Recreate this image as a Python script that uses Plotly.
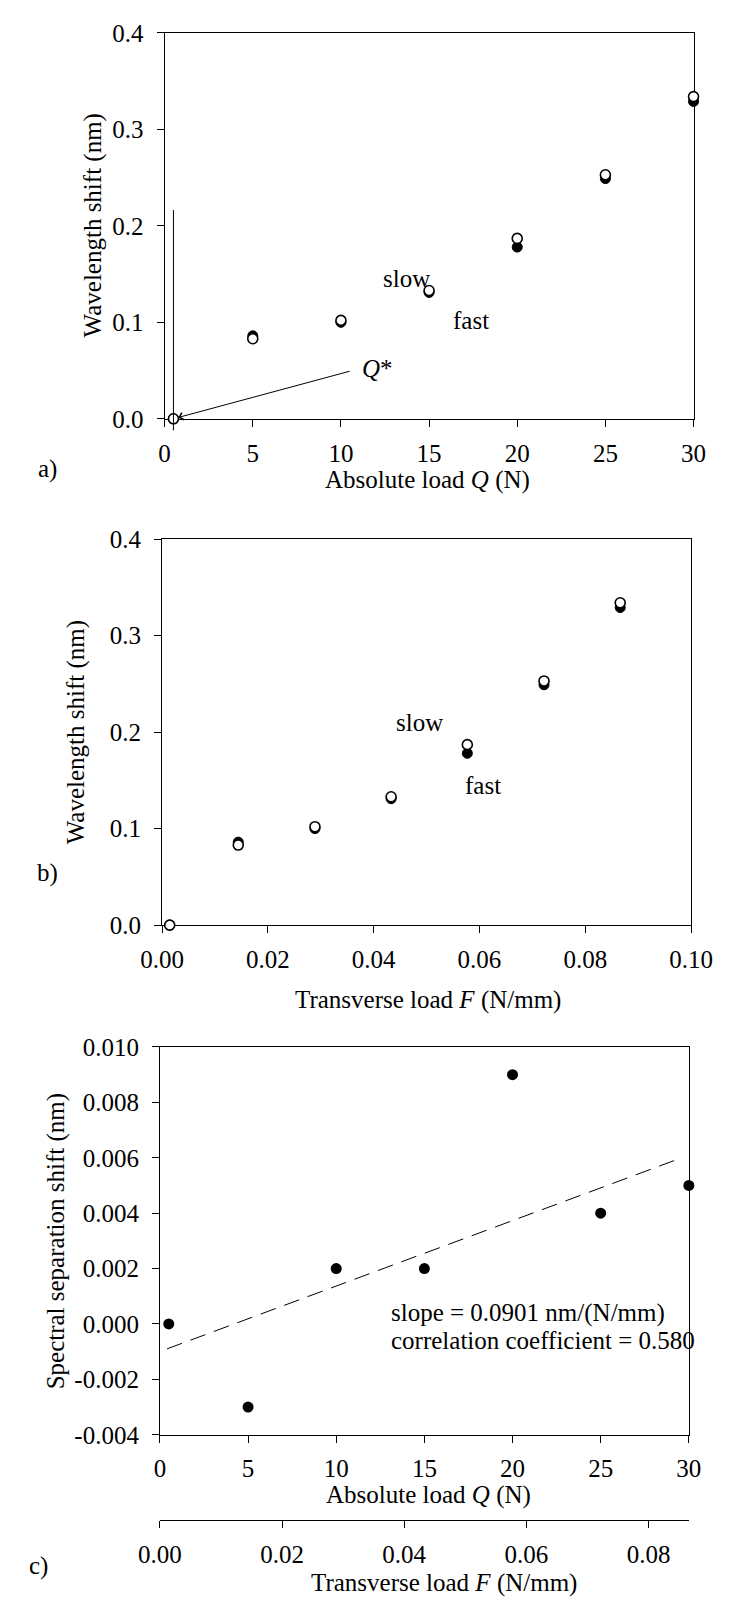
import plotly.graph_objects as go

# ---------------- data ----------------
Q_load = [0.5, 5, 10, 15, 20, 25, 30]                                  # absolute load Q (N)
F_load = [0.00144, 0.0144, 0.0289, 0.0433, 0.0577, 0.0722, 0.0866]     # transverse load F (N/mm)
shift_fast = [0.000, 0.086, 0.100, 0.131, 0.178, 0.249, 0.329]         # filled circles
shift_slow = [0.000, 0.083, 0.102, 0.133, 0.187, 0.253, 0.334]         # open circles
spec_sep = [0.000, -0.003, 0.002, 0.002, 0.009, 0.004, 0.005]          # spectral separation shift
fit_Q = [0.4, 29.6]
fit_spec = [-0.0009, 0.0060]

ya_ticks = [0.0, 0.1, 0.2, 0.3, 0.4]
xa_ticks = [0, 5, 10, 15, 20, 25, 30]
xb_ticks = [0.00, 0.02, 0.04, 0.06, 0.08, 0.10]
yc_ticks = [-0.004, -0.002, 0.000, 0.002, 0.004, 0.006, 0.008, 0.010]
yc_labels = ["-0.004", "-0.002", "0.000", "0.002", "0.004", "0.006", "0.008", "0.010"]
xf_ticks = [0.00, 0.02, 0.04, 0.06, 0.08]
F_max = 0.0866

FONT = "Liberation Serif"
W, H = 735, 1610

def px(x):
    return x / W

def py(y):
    return 1 - y / H

fig = go.Figure()

open_marker = dict(symbol="circle", size=10, color="white", line=dict(color="black", width=1.6))
fill_marker = dict(symbol="circle", size=10, color="black", line=dict(color="black", width=1))

# panel a
fig.add_trace(go.Scatter(x=Q_load, y=shift_fast, mode="markers", marker=fill_marker,
                         xaxis="x", yaxis="y", cliponaxis=False, showlegend=False))
fig.add_trace(go.Scatter(x=Q_load, y=shift_slow, mode="markers", marker=open_marker,
                         xaxis="x", yaxis="y", cliponaxis=False, showlegend=False))
# panel b
fig.add_trace(go.Scatter(x=F_load, y=shift_fast, mode="markers", marker=fill_marker,
                         xaxis="x2", yaxis="y2", cliponaxis=False, showlegend=False))
fig.add_trace(go.Scatter(x=F_load, y=shift_slow, mode="markers", marker=open_marker,
                         xaxis="x2", yaxis="y2", cliponaxis=False, showlegend=False))
# panel c
fig.add_trace(go.Scatter(x=fit_Q, y=fit_spec, mode="lines",
                         line=dict(color="black", width=1, dash="16px,9px"),
                         xaxis="x3", yaxis="y3", showlegend=False))
fig.add_trace(go.Scatter(x=Q_load, y=spec_sep, mode="markers",
                         marker=dict(symbol="circle", size=11, color="black"),
                         xaxis="x3", yaxis="y3", cliponaxis=False, showlegend=False))
# invisible trace to carry the transverse-load axis of panel c
fig.add_trace(go.Scatter(x=F_load, y=spec_sep, mode="markers", marker=dict(opacity=0),
                         xaxis="x4", yaxis="y3", hoverinfo="skip", showlegend=False))

tickfont = dict(family=FONT, size=25, color="black")
common = dict(showline=True, linecolor="black", linewidth=1, ticks="outside", ticklen=7,
              tickwidth=1, tickcolor="black", showgrid=False, zeroline=False,
              tickfont=tickfont, layer="below traces")

fig.update_layout(
    width=W, height=H, margin=dict(l=0, r=0, t=0, b=0),
    paper_bgcolor="white", plot_bgcolor="white",
    font=dict(family=FONT, size=25, color="black"),
    xaxis=dict(domain=[px(151.7), px(714.3)], range=[0, 30], tickvals=xa_ticks,
               anchor="y", mirror=True, ticklabelstandoff=5, **common),
    yaxis=dict(domain=[py(412.7), py(20.3)], range=[0, 0.4], tickvals=ya_ticks,
               tickformat=".1f", anchor="x", mirror=True, ticklabelstandoff=8, **common),
    xaxis2=dict(domain=[px(149), px(711.7)], range=[0, 0.1], tickvals=xb_ticks,
                tickformat=".2f", anchor="y2", mirror=True, ticklabelstandoff=5, **common),
    yaxis2=dict(domain=[py(927.7), py(535)], range=[0, 0.4], tickvals=ya_ticks,
                tickformat=".1f", anchor="x2", mirror=True, ticklabelstandoff=8, **common),
    xaxis3=dict(domain=[px(146.7), px(709.3)], range=[0, 30], tickvals=xa_ticks,
                anchor="y3", mirror=True, ticklabelstandoff=4, **common),
    yaxis3=dict(domain=[py(1446), py(1051.6)], range=[-0.004, 0.010], tickvals=yc_ticks,
                ticktext=yc_labels, anchor="x3", mirror=True, ticklabelstandoff=8, **common),
    xaxis4=dict(overlaying="x3", anchor="free", position=py(1532.3), range=[0, F_max],
                tickvals=xf_ticks, tickformat=".2f", side="bottom", ticklabelstandoff=5,
                **{k: v for k, v in common.items() if k != "layer"}),
)

annotations = []

def txt(text, x, y, size=25, angle=0, xanchor="center", xref="paper", yref="paper"):
    annotations.append(dict(text=text, x=x, y=y, xref=xref, yref=yref, showarrow=False,
                            textangle=angle, xanchor=xanchor, yanchor="middle",
                            font=dict(family=FONT, size=size, color="black")))

# axis titles
txt("Wavelength shift (nm)", px(75), py(216.5), angle=-90)
txt("Absolute load <i>Q</i> (N)", px(431), py(475))
txt("Wavelength shift (nm)", px(57.5), py(731.5), angle=-90)
txt("Transverse load <i>F</i> (N/mm)", px(432), py(1003.5))
txt("Spectral separation shift (nm)", px(36.5), py(1249), angle=-90)
txt("Absolute load <i>Q</i> (N)", px(432), py(1507))
txt("Transverse load <i>F</i> (N/mm)", px(449), py(1596.5))
# panel labels
txt("a)", px(27), py(464))
txt("b)", px(27), py(875))
txt("c)", px(18), py(1579))

# in-plot labels
txt("slow", 13.7, 0.1456, xref="x", yref="y")
txt("fast", 17.4, 0.102, xref="x", yref="y")
txt("<i>Q</i>*", 12.05, 0.052, xref="x", yref="y")
txt("slow", 0.0487, 0.2096, xref="x2", yref="y2")
txt("fast", 0.0606, 0.145, xref="x2", yref="y2")
txt("slope = 0.0901 nm/(N/mm)", 13.0, 0.00041, xanchor="left", xref="x3", yref="y3")
txt("correlation coefficient = 0.580", 13.0, -0.0006, xanchor="left", xref="x3", yref="y3")

# Q* marker line and arrow
annotations.append(dict(x=0.5, y=-0.012, ax=0.5, ay=0.218, xref="x", yref="y",
                        axref="x", ayref="y", text="", showarrow=True, arrowhead=0,
                        arrowwidth=1, arrowcolor="black", standoff=0, startstandoff=0))
annotations.append(dict(x=0.5, y=0.0, ax=10.58, ay=0.0497, xref="x", yref="y",
                        axref="x", ayref="y", text="", showarrow=True, arrowhead=4,
                        arrowsize=1.4, arrowwidth=1, arrowcolor="black", standoff=5))

fig.update_layout(annotations=annotations)

fig.write_html("out.html")
